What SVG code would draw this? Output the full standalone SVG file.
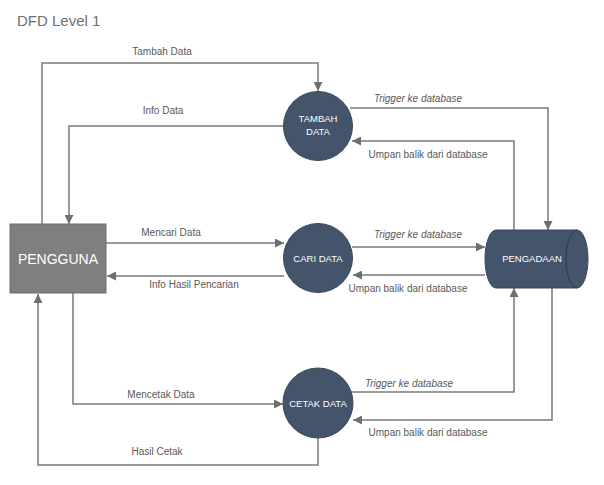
<svg xmlns="http://www.w3.org/2000/svg" width="604" height="485" viewBox="0 0 604 485">
<defs>
<marker id="ah" viewBox="0 0 10 10" refX="10" refY="5" markerWidth="9" markerHeight="9" markerUnits="userSpaceOnUse" orient="auto">
<path d="M0,0 L10,5 L0,10 Z" fill="#6f6f6f"/>
</marker>
<style>
.ln{fill:none;stroke:#7a7a7a;stroke-width:1.5;marker-end:url(#ah)}
.lb{font-family:"Liberation Sans",Arial,sans-serif;font-size:10px;fill:#595959}
.it{font-style:italic}
.proc{fill:#44546a;stroke:#3a4759;stroke-width:1}
.pt{font-family:"Liberation Sans",Arial,sans-serif;font-size:9.5px;fill:#ffffff;text-anchor:middle}
</style>
</defs>
<rect width="604" height="485" fill="#ffffff"/>
<text x="17" y="26" font-family="'Liberation Sans',Arial,sans-serif" font-size="15" fill="#707070">DFD Level 1</text>

<g id="connectors">
<path class="ln" d="M42,224 V63 H318 V91"/>
<path class="ln" d="M284,126 H69 V224"/>
<path class="ln" d="M350,108 H548 V230"/>
<path class="ln" d="M514,230 V141 H352"/>
<path class="ln" d="M106,243 H284"/>
<path class="ln" d="M284,276 H107"/>
<path class="ln" d="M352,247 H485"/>
<path class="ln" d="M485,275 H353"/>
<path class="ln" d="M73,293 V404 H283"/>
<path class="ln" d="M318,438 V465 H38 V294"/>
<path class="ln" d="M351,392 H514 V288"/>
<path class="ln" d="M552,288 V420 H353"/>
</g>

<g id="labels">
<text class="lb" x="162" y="55" text-anchor="middle">Tambah Data</text>
<text class="lb" x="163" y="114" text-anchor="middle">Info Data</text>
<text class="lb it" x="418" y="102" text-anchor="middle">Trigger ke database</text>
<text class="lb" x="428" y="158" text-anchor="middle">Umpan balik dari database</text>
<text class="lb" x="171" y="236" text-anchor="middle">Mencari Data</text>
<text class="lb" x="194" y="288" text-anchor="middle">Info Hasil Pencarian</text>
<text class="lb it" x="418" y="238" text-anchor="middle">Trigger ke database</text>
<text class="lb" x="408" y="292" text-anchor="middle">Umpan balik dari database</text>
<text class="lb" x="161" y="398" text-anchor="middle">Mencetak Data</text>
<text class="lb it" x="409" y="387" text-anchor="middle">Trigger ke database</text>
<text class="lb" x="428" y="436" text-anchor="middle">Umpan balik dari database</text>
<text class="lb" x="157" y="455" text-anchor="middle">Hasil Cetak</text>
</g>

<g id="pengguna">
<rect x="10" y="224" width="96" height="69" fill="#7f7f7f" stroke="#6e6e6e" stroke-width="1"/>
<text x="58" y="264" font-family="'Liberation Sans',Arial,sans-serif" font-size="14" fill="#ffffff" text-anchor="middle">PENGGUNA</text>
</g>

<g id="tambah-data">
<circle class="proc" cx="318" cy="126" r="34.5"/>
<text class="pt" x="318" y="122">TAMBAH</text>
<text class="pt" x="318" y="135">DATA</text>
</g>

<g id="cari-data">
<circle class="proc" cx="318" cy="258" r="34.5"/>
<text class="pt" x="318" y="262">CARI DATA</text>
</g>

<g id="cetak-data">
<circle class="proc" cx="318" cy="403" r="35"/>
<text class="pt" x="318" y="407">CETAK DATA</text>
</g>

<g id="pengadaan">
<path d="M496,230 H577 A11,29 0 0 1 577,288 H496 A11,29 0 0 1 496,230 Z" fill="#44546a" stroke="#3a4759" stroke-width="1"/>
<path d="M577,230 A11,29 0 0 0 577,288" fill="none" stroke="#2e3a4a" stroke-width="1"/>
<text class="pt" x="532" y="262">PENGADAAN</text>
</g>
</svg>
